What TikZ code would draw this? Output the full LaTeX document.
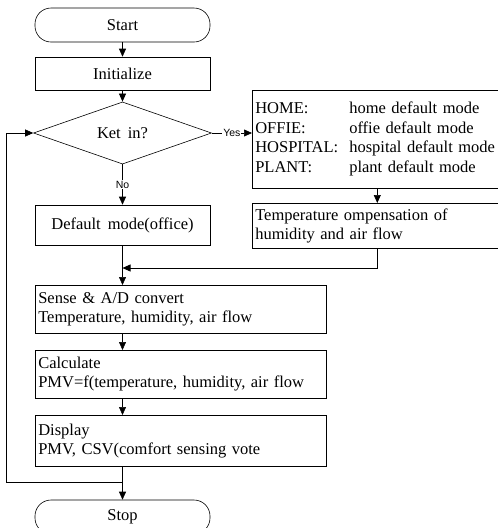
\documentclass[tikz,border=0pt]{standalone}
\usepackage{fontspec}
\setmainfont{Liberation Serif}[WordSpace=1.7]
\newfontfamily\tagfont{Liberation Sans}
\usetikzlibrary{arrows.meta,positioning,shapes.geometric}

\begin{document}
\begin{tikzpicture}[
  x=1pt, y=-1pt,
  line width=0.6pt,
  every node/.style={font=\fontsize{16.5}{19.5}\selectfont},
  term/.style={draw, rounded corners=16pt, minimum width=175pt, minimum height=34pt},
  flowbox/.style={draw, minimum width=175pt, align=center},
  textbox/.style={draw, anchor=north west, align=left, inner xsep=3pt},
  decision/.style={draw, diamond, inner sep=0pt, minimum width=178pt, minimum height=53pt},
  tag/.style={font=\tagfont\fontsize{10.5}{12}\selectfont, fill=white, inner sep=1pt},
  edge/.style={-{Triangle[length=8pt,width=7pt]}}
]
\useasboundingbox (0,0) rectangle (498,528);

% main column
\node[term] (start) at (122.5,25) {Start};
\node[flowbox, minimum height=33pt] (init) at (122.5,73.5) {Initialize};
\node[decision] (key) at (122.5,133) {Ket in?};
\node[flowbox, minimum height=40pt] (dflt) at (122.5,225) {Default mode(office)};
\node[textbox, minimum width=291pt, text width=285pt, minimum height=48pt] (sense) at (35,285)
  {Sense \& A/D convert\\Temperature, humidity, air flow};
\node[textbox, minimum width=291pt, text width=285pt, minimum height=48pt] (calc) at (35,350)
  {Calculate\\PMV=f(temperature, humidity, air flow};
\node[textbox, minimum width=291pt, text width=285pt, minimum height=51pt] (disp) at (35,415)
  {Display\\PMV, CSV(comfort sensing vote};
\node[term] (stop) at (122.5,517) {Stop};

% right branch
\node[textbox, minimum width=250pt, text width=244pt, minimum height=98pt] (modes) at (252,90)
  {\begin{tabular}{@{}p{94pt}@{}l@{}}
   HOME: & home default mode\\
   OFFIE: & offie default mode\\
   HOSPITAL: & hospital default mode\\
   PLANT: & plant default mode
   \end{tabular}};
\node[textbox, minimum width=250pt, text width=244pt, minimum height=45pt] (comp) at (252,203)
  {Temperature ompensation of\\humidity and air flow};

\coordinate (merge) at (122.5,268);
\coordinate (loopjoin) at (122.5,482);
\coordinate (loopleft) at (6,482);

\draw[edge] (start) -- (init);
\draw[edge] (init) -- (key);
\draw[edge] (key.east) -- node[tag] {Yes} (key.east -| modes.west);
\draw[edge] (key.south) -- node[tag] {No} (dflt.north);
\draw[edge] (modes.south) -- (comp.north);
\draw[edge] (comp.south) |- (merge);
\draw[edge] (dflt.south) -- (dflt.south |- sense.north);
\draw[edge] (dflt.south |- sense.south) -- (dflt.south |- calc.north);
\draw[edge] (dflt.south |- calc.south) -- (dflt.south |- disp.north);
\draw[edge] (dflt.south |- disp.south) -- (stop.north);
\draw[edge] (loopjoin) -- (loopleft) |- (key.west);
\end{tikzpicture}
\end{document}
